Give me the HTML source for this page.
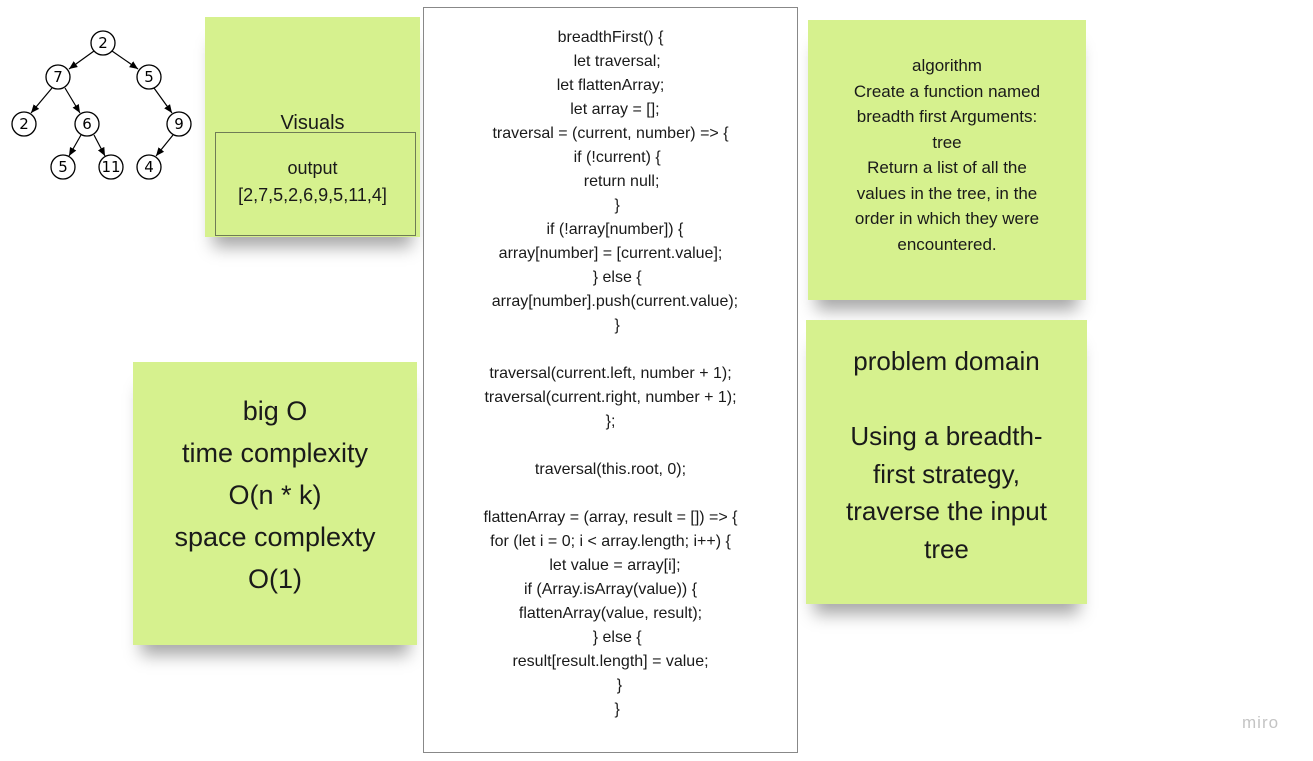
<!DOCTYPE html>
<html><head><meta charset="utf-8"><style>
body{margin:0;width:1313px;height:761px;background:#fff;position:relative;overflow:hidden;font-family:"Liberation Sans","DejaVu Sans",sans-serif;color:#1a1a1a}
.s{position:absolute;background:#d6f18e;box-shadow:0 18px 16px -8px rgba(0,0,0,0.35)}
.t{position:absolute;left:0;right:0;text-align:center;white-space:nowrap}
#code{position:absolute;left:423px;top:7px;width:373px;height:744px;border:1px solid #888;background:#fff}
#code div{position:absolute;left:0;right:0;text-align:center;font-size:16px;white-space:pre}
</style></head><body>
<svg style="position:absolute;left:0;top:0" width="210" height="190">
<defs><marker id="a" markerWidth="8" markerHeight="8" refX="7" refY="4" orient="auto"><path d="M0,1 L7,4 L0,7z" fill="#000"/></marker></defs>
<g stroke="#000" stroke-width="1.2" marker-end="url(#a)">
<line x1="94" y1="51" x2="69" y2="69"/><line x1="112" y1="51" x2="138" y2="69"/>
<line x1="52" y1="88" x2="31" y2="113"/><line x1="65" y1="88" x2="80" y2="113"/>
<line x1="154" y1="88" x2="172" y2="113"/>
<line x1="81" y1="135" x2="69" y2="156"/><line x1="94" y1="135" x2="105" y2="156"/>
<line x1="173" y1="135" x2="156" y2="156"/></g>
<g fill="#fff" stroke="#000" stroke-width="1.3">
<circle cx="103" cy="43" r="12"/><circle cx="58" cy="77" r="12"/><circle cx="149" cy="77" r="12"/>
<circle cx="24" cy="124" r="12"/><circle cx="87" cy="124" r="12"/><circle cx="179" cy="124" r="12"/>
<circle cx="63" cy="167" r="12"/><circle cx="111" cy="167" r="12"/><circle cx="149" cy="167" r="12"/></g>
<g font-family="DejaVu Sans,sans-serif" font-size="15" text-anchor="middle">
<text x="103" y="48">2</text><text x="58" y="82">7</text><text x="149" y="82">5</text>
<text x="24" y="129">2</text><text x="87" y="129">6</text><text x="179" y="129">9</text>
<text x="63" y="172">5</text><text x="111" y="172">11</text><text x="149" y="172">4</text></g>
</svg>

<div class="s" style="left:205px;top:17px;width:215px;height:220px">
<div class="t" style="top:95px;font-size:20px">Visuals</div>
<div style="position:absolute;left:10px;top:115px;width:199px;height:102px;border:1px solid #6f7c55"></div>
<div class="t" style="top:141px;font-size:18px">output</div>
<div class="t" style="top:168px;font-size:18px">[2,7,5,2,6,9,5,11,4]</div>
</div>

<div class="s" style="left:133px;top:362px;width:284px;height:283px;font-size:27px">
<div class="t" style="top:34px">big O</div>
<div class="t" style="top:76px">time complexity</div>
<div class="t" style="top:118px">O(n * k)</div>
<div class="t" style="top:160px">space complexty</div>
<div class="t" style="top:202px">O(1)</div>
</div>

<div class="s" style="left:808px;top:20px;width:278px;height:280px;font-size:17px">
<div class="t" style="top:36px">algorithm</div>
<div class="t" style="top:62px">Create a function named</div>
<div class="t" style="top:87px">breadth first Arguments:</div>
<div class="t" style="top:113px">tree</div>
<div class="t" style="top:138px">Return a list of all the</div>
<div class="t" style="top:164px">values in the tree, in the</div>
<div class="t" style="top:189px">order in which they were</div>
<div class="t" style="top:215px">encountered.</div>
</div>

<div class="s" style="left:806px;top:320px;width:281px;height:284px;font-size:26px">
<div class="t" style="top:26px">problem domain</div>
<div class="t" style="top:101px">Using a breadth-</div>
<div class="t" style="top:139px">first strategy,</div>
<div class="t" style="top:176px">traverse the input</div>
<div class="t" style="top:214px">tree</div>
</div>

<div id="code">
<div style="top:21px">breadthFirst() {</div>
<div style="top:45px">   let traversal;</div>
<div style="top:69px">let flattenArray;</div>
<div style="top:93px">  let array = [];</div>
<div style="top:117px">traversal = (current, number) =&gt; {</div>
<div style="top:141px">   if (!current) {</div>
<div style="top:165px">     return null;</div>
<div style="top:189px">   }</div>
<div style="top:213px">  if (!array[number]) {</div>
<div style="top:237px">array[number] = [current.value];</div>
<div style="top:261px">   } else {</div>
<div style="top:285px">  array[number].push(current.value);</div>
<div style="top:309px">   }</div>
<div style="top:357px">traversal(current.left, number + 1);</div>
<div style="top:381px">traversal(current.right, number + 1);</div>
<div style="top:405px">};</div>
<div style="top:453px">traversal(this.root, 0);</div>
<div style="top:501px">flattenArray = (array, result = []) =&gt; {</div>
<div style="top:525px">for (let i = 0; i &lt; array.length; i++) {</div>
<div style="top:549px">  let value = array[i];</div>
<div style="top:573px">if (Array.isArray(value)) {</div>
<div style="top:597px">flattenArray(value, result);</div>
<div style="top:621px">   } else {</div>
<div style="top:645px">result[result.length] = value;</div>
<div style="top:669px">    }</div>
<div style="top:693px">   }</div>
</div>

<div style="position:absolute;left:1242px;top:713px;font-size:17px;color:#c4c4c4;letter-spacing:1px">miro</div>
</body></html>
